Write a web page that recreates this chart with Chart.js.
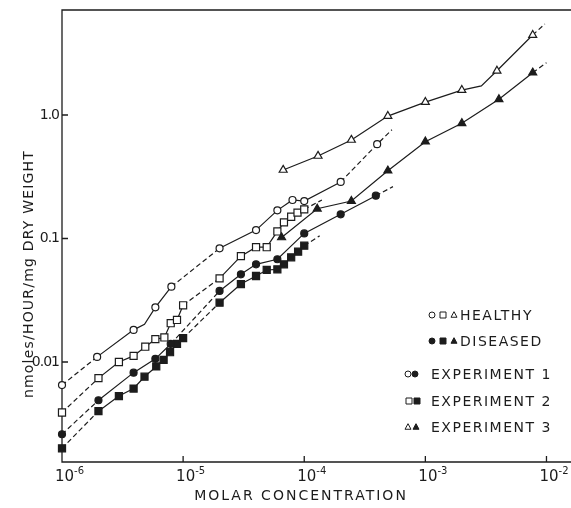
<!DOCTYPE html>
<html>
<head>
<meta charset="utf-8">
<script src="https://cdn.jsdelivr.net/npm/chart.js@4/dist/chart.umd.min.js"></script>
<style>
  html, body { margin: 0; padding: 0; background: #fff; overflow: hidden; }
</style>
</head>
<body>
<canvas id="chart" width="571" height="508"></canvas>
<script>
// molar concentration (x) and rate, nmoles/hour/mg dry weight (y)
const concExp1Healthy = [1e-6, 1.95e-6, 3.9e-6, 4.8e-6, 5.9e-6, 8e-6, 2e-5, 4e-5, 6e-5, 8e-5, 1e-4, 2e-4, 4e-4, 5.3e-4];
const rateExp1Healthy = [0.0065, 0.011, 0.0182, 0.0202, 0.0277, 0.0407, 0.0833, 0.117, 0.169, 0.205, 0.201, 0.287, 0.58, 0.76];

const concExp2Healthy = [1e-6, 2e-6, 2.95e-6, 3.9e-6, 4.87e-6, 5.9e-6, 7e-6, 7.9e-6, 8.9e-6, 1e-5, 2e-5, 3e-5, 4e-5, 4.9e-5, 6e-5, 6.8e-5, 7.8e-5, 8.8e-5, 1e-4, 1.4e-4];
const rateExp2Healthy = [0.0039, 0.0074, 0.0100, 0.0112, 0.0133, 0.0153, 0.0158, 0.0206, 0.0219, 0.0288, 0.0476, 0.072, 0.085, 0.085, 0.114, 0.135, 0.150, 0.162, 0.172, 0.205];

const concExp1Diseased = [1e-6, 2e-6, 3.9e-6, 5.9e-6, 7.9e-6, 2e-5, 3e-5, 4e-5, 6e-5, 1e-4, 2e-4, 3.9e-4, 5.4e-4];
const rateExp1Diseased = [0.0026, 0.0049, 0.0082, 0.0106, 0.0140, 0.0376, 0.0513, 0.0618, 0.0679, 0.110, 0.157, 0.222, 0.263];

const concExp2Diseased = [1e-6, 2e-6, 2.95e-6, 3.9e-6, 4.8e-6, 6e-6, 6.9e-6, 7.8e-6, 8.9e-6, 1e-5, 2e-5, 3e-5, 4e-5, 4.9e-5, 6e-5, 6.8e-5, 7.8e-5, 8.9e-5, 1e-4, 1.34e-4];
const rateExp2Diseased = [0.0020, 0.0040, 0.0053, 0.0061, 0.0076, 0.0092, 0.0104, 0.0120, 0.0140, 0.0156, 0.0302, 0.0428, 0.0497, 0.0556, 0.0563, 0.0618, 0.0704, 0.0782, 0.0874, 0.105];

const concExp3Healthy = [6.7e-5, 1.3e-4, 2.45e-4, 4.9e-4, 1e-3, 2e-3, 2.9e-3, 3.9e-3, 7.7e-3, 9.7e-3];
const rateExp3Healthy = [0.359, 0.466, 0.628, 0.98, 1.27, 1.59, 1.72, 2.28, 4.44, 5.46];

const concExp3Diseased = [6.5e-5, 1.28e-4, 2.45e-4, 4.9e-4, 1e-3, 2e-3, 4.05e-3, 7.7e-3, 1.0e-2];
const rateExp3Diseased = [0.102, 0.174, 0.201, 0.354, 0.608, 0.857, 1.34, 2.2, 2.65];

const xTicks = [1e-6, 1e-5, 1e-4, 1e-3, 1e-2];
const xTickExp = ['-6', '-5', '-4', '-3', '-2'];
const yTicks = [0.01, 0.1, 1];
const yTickLabels = ['0.01', '0.1', '1.0'];

const INK = '#1c1c1c';
const FONT = '"DejaVu Sans", sans-serif';

// dashed: segment start indexes drawn dashed, bare: vertexes without a marker
const makeSeries = (conc, rate, style) => ({
  data: conc.map((x, i) => ({x, y: rate[i]})),
  showLine: true,
  clip: false,
  borderColor: INK,
  borderWidth: 1.2,
  pointStyle: style.shape,
  pointBackgroundColor: style.filled ? INK : '#fff',
  pointBorderColor: INK,
  pointBorderWidth: 1.2,
  pointRadius: (ctx) => (style.bare.includes(ctx.dataIndex) ? 0 : style.size),
  segment: {
    borderDash: (ctx) => (style.dashed.includes(ctx.p0DataIndex) ? [5, 3] : undefined)
  }
});

const datasets = [
  makeSeries(concExp3Healthy, rateExp3Healthy, {shape: 'triangle', filled: false, size: 4.6, dashed: [8], bare: [6, 9]}),
  makeSeries(concExp3Diseased, rateExp3Diseased, {shape: 'triangle', filled: true, size: 4.6, dashed: [7], bare: [8]}),
  makeSeries(concExp1Healthy, rateExp1Healthy, {shape: 'circle', filled: false, size: 3.5, dashed: [0, 5, 11, 12], bare: [3, 13]}),
  makeSeries(concExp2Healthy, rateExp2Healthy, {shape: 'rect', filled: false, size: 5, dashed: [0, 9, 18], bare: [19]}),
  makeSeries(concExp1Diseased, rateExp1Diseased, {shape: 'circle', filled: true, size: 3.5, dashed: [0, 4, 11], bare: [12]}),
  makeSeries(concExp2Diseased, rateExp2Diseased, {shape: 'rect', filled: true, size: 5, dashed: [0, 9, 18], bare: [19]})
];

const drawMarker = (ctx, shape, filled, x, y, r) => {
  ctx.fillStyle = filled ? INK : '#fff';
  ctx.strokeStyle = INK;
  ctx.lineWidth = 1;
  ctx.beginPath();
  if (shape === 'circle') {
    ctx.arc(x, y, r, 0, Math.PI * 2);
  } else if (shape === 'rect') {
    ctx.rect(x - r, y - r, 2 * r, 2 * r);
  } else {
    ctx.moveTo(x, y - r * 1.1);
    ctx.lineTo(x + r, y + r * 0.75);
    ctx.lineTo(x - r, y + r * 0.75);
    ctx.closePath();
  }
  ctx.fill();
  ctx.stroke();
};

const framePlugin = {
  id: 'frame',
  beforeDatasetsDraw(chart) {
    const {ctx, chartArea: a, scales: {x, y}} = chart;
    ctx.save();
    ctx.strokeStyle = INK;
    ctx.lineWidth = 1.3;
    ctx.beginPath();
    ctx.moveTo(a.right, a.top);
    ctx.lineTo(a.left, a.top);
    ctx.lineTo(a.left, a.bottom);
    ctx.lineTo(a.right, a.bottom);
    xTicks.slice(1).forEach((v) => {
      const px = x.getPixelForValue(v);
      ctx.moveTo(px, a.bottom);
      ctx.lineTo(px, a.bottom - 6);
    });
    yTicks.forEach((v) => {
      const py = y.getPixelForValue(v);
      ctx.moveTo(a.left, py);
      ctx.lineTo(a.left + 6, py);
    });
    ctx.stroke();
    ctx.restore();
  },
  afterDraw(chart) {
    const {ctx, chartArea: a, scales: {x, y}} = chart;
    ctx.save();
    ctx.fillStyle = INK;

    // y tick labels
    ctx.font = `14px ${FONT}`;
    ctx.letterSpacing = '-1px';
    ctx.textAlign = 'right';
    ctx.textBaseline = 'middle';
    yTicks.forEach((v, i) => ctx.fillText(yTickLabels[i], a.left - 3, y.getPixelForValue(v)));

    // x tick labels, 10 with a raised exponent
    ctx.letterSpacing = '0px';
    ctx.textAlign = 'left';
    ctx.textBaseline = 'alphabetic';
    xTicks.forEach((v, i) => {
      const px = x.getPixelForValue(v) - 7;
      ctx.font = `15px ${FONT}`;
      ctx.fillText('10', px, a.bottom + 19);
      const w = ctx.measureText('10').width;
      ctx.font = `10px ${FONT}`;
      ctx.fillText(xTickExp[i], px + w, a.bottom + 12);
    });

    // axis titles
    ctx.font = `14px ${FONT}`;
    ctx.letterSpacing = '2px';
    ctx.textAlign = 'center';
    ctx.fillText('MOLAR CONCENTRATION', 301, 500);

    ctx.save();
    ctx.translate(33, 274);
    ctx.rotate(-Math.PI / 2);
    ctx.letterSpacing = '1.2px';
    ctx.fillText('nmoles/HOUR/mg DRY WEIGHT', 0, 0);
    ctx.restore();

    // legend
    ctx.letterSpacing = '1.5px';
    ctx.textAlign = 'left';
    ctx.textBaseline = 'middle';
    const rows = [
      {y: 315, text: 'HEALTHY', tx: 460, marks: [['circle', false, 432], ['rect', false, 443], ['triangle', false, 454]]},
      {y: 341, text: 'DISEASED', tx: 460, marks: [['circle', true, 432], ['rect', true, 443], ['triangle', true, 454]]},
      {y: 374, text: 'EXPERIMENT 1', tx: 431, marks: [['circle', false, 408], ['circle', true, 415]]},
      {y: 401, text: 'EXPERIMENT 2', tx: 431, marks: [['rect', false, 409], ['rect', true, 417]]},
      {y: 427, text: 'EXPERIMENT 3', tx: 431, marks: [['triangle', false, 408], ['triangle', true, 416]]}
    ];
    rows.forEach((row) => {
      row.marks.forEach(([shape, filled, mx]) => drawMarker(ctx, shape, filled, mx, row.y, 3));
      ctx.fillStyle = INK;
      ctx.fillText(row.text, row.tx, row.y + 1);
    });
    ctx.restore();
  }
};

new Chart(document.getElementById('chart'), {
  type: 'scatter',
  data: {datasets},
  options: {
    responsive: false,
    animation: false,
    layout: {autoPadding: false, padding: {left: 62, top: 10, right: 0, bottom: 46}},
    plugins: {legend: {display: false}, tooltip: {enabled: false}},
    scales: {
      x: {type: 'logarithmic', min: 1e-6, max: 0.01594, display: false},
      y: {type: 'logarithmic', min: 0.00155, max: 7.08, display: false}
    }
  },
  plugins: [framePlugin]
});
</script>
</body>
</html>
